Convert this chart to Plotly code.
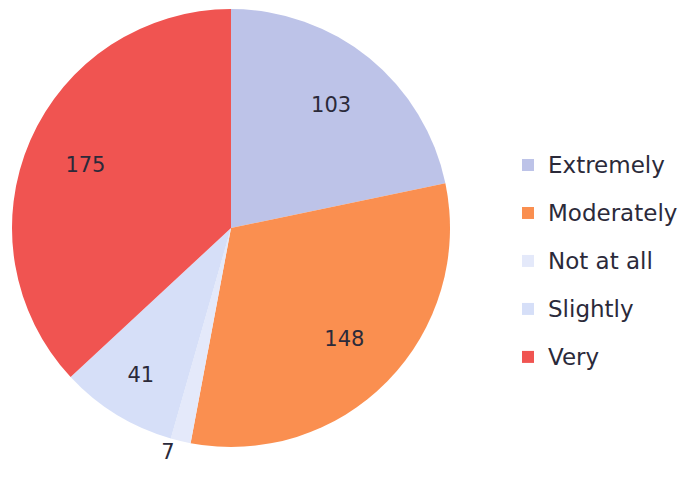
import plotly.graph_objects as go

labels = ["Extremely", "Moderately", "Not at all", "Slightly", "Very"]
values = [103, 148, 7, 41, 175]
colors = ["#BDC3E8", "#FA8F50", "#E4E9FA", "#D6DFF8", "#F05451"]

text_color = "#2B2A3A"
font_family = "DejaVu Sans, Open Sans, sans-serif"

legend_labels = [
    "<span style='font-size:23px;baseline-shift:5px'>%s</span>" % l for l in labels
]

dom = dict(x=[12 / 695, 450 / 695], y=[0, 1])

fig = go.Figure()
# coloured slices
fig.add_trace(
    go.Pie(
        labels=legend_labels,
        values=values,
        marker=dict(colors=colors, line=dict(width=0)),
        sort=False,
        direction="clockwise",
        rotation=0,
        textinfo="none",
        domain=dom,
        hoverinfo="label+value",
    )
)
# value labels (ring placement pushes them outwards like the reference)
fig.add_trace(
    go.Pie(
        labels=legend_labels,
        values=values,
        hole=0.45,
        marker=dict(colors=["rgba(0,0,0,0)"] * len(values), line=dict(width=0)),
        sort=False,
        direction="clockwise",
        rotation=0,
        textinfo="value",
        textposition="auto",
        insidetextorientation="horizontal",
        textfont=dict(size=21, color=text_color, family=font_family),
        outsidetextfont=dict(size=21, color=text_color, family=font_family),
        insidetextfont=dict(size=21, color=text_color, family=font_family),
        domain=dom,
        showlegend=False,
        hoverinfo="skip",
    )
)

fig.update_layout(
    width=695,
    height=480,
    margin=dict(l=0, r=0, t=9, b=33),
    paper_bgcolor="white",
    plot_bgcolor="white",
    font=dict(family=font_family, color=text_color),
    showlegend=True,
    legend=dict(
        x=508 / 695,
        xanchor="left",
        y=0.5 - 33 / 438,
        yanchor="middle",
        font=dict(size=34.6, color=text_color, family=font_family),
        bgcolor="rgba(0,0,0,0)",
    ),
)

fig.write_html("out.html")
